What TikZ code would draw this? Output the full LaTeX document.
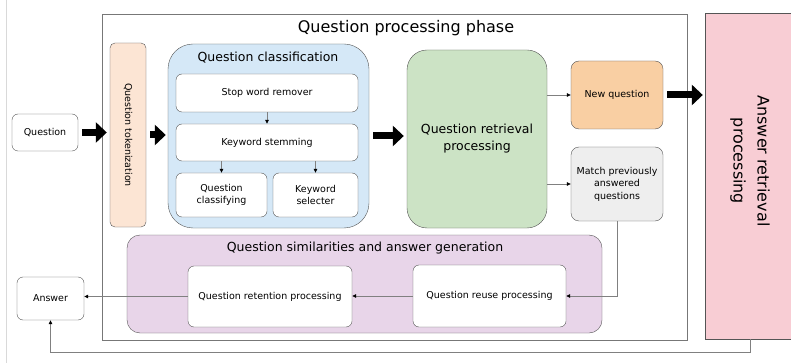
\documentclass[tikz,border=0pt]{standalone}
\usepackage{fontspec}
\setmainfont{DejaVu Sans}
\usepackage{graphicx}
\usepackage{tikz}
\usetikzlibrary{arrows.meta}

\definecolor{edge}{HTML}{555555}
\definecolor{wire}{HTML}{808080}
\definecolor{tokfill}{HTML}{FCE5D4}
\definecolor{clsfill}{HTML}{D5E8F7}
\definecolor{retfill}{HTML}{CCE3C5}
\definecolor{newfill}{HTML}{F9CFA3}
\definecolor{matfill}{HTML}{EEEEEE}
\definecolor{simfill}{HTML}{E8D5E9}
\definecolor{arpfill}{HTML}{F8CDD4}

\begin{document}
\begin{tikzpicture}[
  x=1pt,y=-1pt,
  font=\fontsize{9.5}{12.5}\selectfont,
  sz/.style 2 args={minimum width=#1pt,minimum height=#2pt,inner sep=0pt},
  box/.style={draw=edge,rounded corners=6pt,fill=white,align=center},
  grp/.style={draw=edge,rounded corners=#1,align=center},
  head/.style={font=\fontsize{12.5}{17}\selectfont,align=center},
  big/.style={font=\fontsize{16}{24}\selectfont,align=center},
  fat/.style={line width=7pt,-{Triangle[length=11pt,width=20pt]}},
  thin/.style={draw=wire,line width=0.7pt,-{Triangle[length=4pt,width=3.5pt,color=black]}}
]
\useasboundingbox (0,0) rectangle (791,363);
\fill[white] (0,0) rectangle (791,363);
\draw[black!15] (6,0) -- (6,363);

% phase frame
\node[draw=edge!80,sz={585}{326}] (phase) at (394.5,177) {};
\node[big] (phasetitle) at (406,28) {Question processing phase};

% input
\node[box,sz={66}{37}] (q) at (45,132.5) {Question};
\node[grp=5pt,fill=tokfill,sz={36}{184}] (tok) at (128,135) {\rotatebox{-90}{Question tokenization}};

% question classification
\node[grp=25pt,fill=clsfill,sz={201}{184}] (cls) at (268.5,136) {};
\node[head] (clstitle) at (268,58) {Question classification};
\node[box,sz={182}{38}] (stop) at (267,93) {Stop word remover};
\node[box,sz={182}{37}] (stem) at (267,142.5) {Keyword stemming};
\node[box,sz={91}{44}] (qcls) at (221.5,195) {Question\\classifying};
\node[box,sz={85}{44}] (ksel) at (315.5,195) {Keyword\\selecter};

% retrieval
\node[grp=20pt,fill=retfill,head,sz={140}{178}] (ret) at (477,139) {Question retrieval\\processing};
\node[grp=8pt,fill=newfill,sz={92}{68}] (newq) at (617,95) {New question};
\node[grp=8pt,fill=matfill,sz={92}{74}] (match) at (617,184) {Match previously\\answered\\questions};

% similarities
\node[grp=13pt,fill=simfill,sz={475}{98}] (sim) at (364.5,284) {};
\node[head] (simtitle) at (365,248) {Question similarities and answer generation};
\node[box,sz={164}{61}] (rten) at (270,296.5) {Question retention processing};
\node[box,sz={153}{62}] (reuse) at (489.5,296) {Question reuse processing};

% output
\node[box,sz={67}{43}] (ans) at (50.5,298.5) {Answer};
\node[draw=edge,fill=arpfill,sz={91}{326}] (arp) at (750.5,176) {};
\node[big,rotate=-90] (arptext) at (750,161) {Answer retrieval\\processing};

% thick arrows
\draw[fat,shorten <=4pt,shorten >=3pt] (q.east) -- (q.east -| tok.west);
\draw[fat,shorten <=4pt,shorten >=2pt] (tok.east) -- (tok.east -| cls.west);
\draw[fat,shorten <=4pt,shorten >=3pt] (cls.east) -- (cls.east -| ret.west);
\draw[fat,shorten <=4pt,shorten >=2pt] (newq.east) -- (newq.east -| arp.west);

% thin arrows
\draw[thin] (stop) -- (stem);
\draw[thin] (qcls.north |- stem.south) -- (qcls.north);
\draw[thin] (ksel.north |- stem.south) -- (ksel.north);
\draw[thin] (ret.east |- newq.west) -- (newq.west);
\draw[thin] (ret.east |- match.west) -- (match.west);
\draw[thin] (match.south) |- (reuse.east);
\draw[thin] (reuse.west) -- (reuse.west -| rten.east);
\draw[thin] (rten.west) -- (rten.west -| ans.east);
\draw[thin] (arp.south) -- ++(0,13) -| (ans.south);
\end{tikzpicture}
\end{document}
